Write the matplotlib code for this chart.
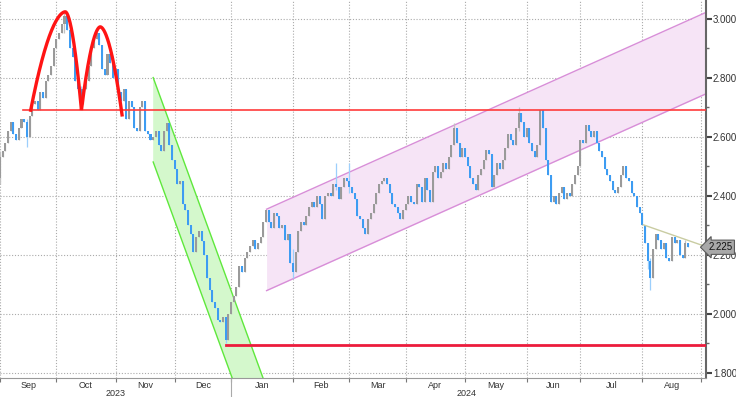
#!/usr/bin/env python3

import numpy as np
import pandas as pd
import matplotlib
matplotlib.use('Agg')
import matplotlib.pyplot as plt
from matplotlib.transforms import blended_transform_factory

# trading days shown on the chart (one candle per business day)
dates = pd.bdate_range('2023-09-01', '2024-08-26')

# daily closes, month by month
sep_23 = [2.53, 2.55, 2.58, 2.62, 2.65, 2.61, 2.59, 2.63, 2.66, 2.65, 2.60,
          2.67, 2.71, 2.72, 2.69, 2.75, 2.73, 2.79, 2.81, 2.84, 2.90]
oct_23 = [2.93, 2.95, 2.98, 3.01, 2.96, 2.90, 2.87, 2.79, 2.76, 2.71, 2.76,
          2.79, 2.84, 2.90, 2.93, 2.95, 2.91, 2.83, 2.81, 2.88, 2.85, 2.80]
nov_23 = [2.83, 2.75, 2.72, 2.76, 2.66, 2.72, 2.70, 2.63, 2.62, 2.70, 2.72,
          2.62, 2.61, 2.59, 2.60, 2.62, 2.57, 2.55, 2.62, 2.645, 2.57, 2.52]
dec_23 = [2.49, 2.44, 2.45, 2.37, 2.35, 2.30, 2.27, 2.21, 2.26, 2.28, 2.245,
          2.20, 2.12, 2.08, 2.04, 2.02, 1.98, 1.97, 1.99, 1.91, 2.00]
jan_24 = [2.04, 2.06, 2.09, 2.16, 2.14, 2.19, 2.21, 2.23, 2.25, 2.22, 2.24,
          2.26, 2.31, 2.35, 2.31, 2.29, 2.34, 2.33, 2.29, 2.30, 2.25, 2.27, 2.17]
feb_24 = [2.14, 2.21, 2.28, 2.31, 2.30, 2.33, 2.36, 2.38, 2.36, 2.40, 2.37,
          2.32, 2.40, 2.41, 2.40, 2.44, 2.43, 2.39, 2.43, 2.46, 2.45]
mar_24 = [2.43, 2.41, 2.39, 2.33, 2.32, 2.29, 2.27, 2.32, 2.34, 2.37, 2.41,
          2.44, 2.45, 2.46, 2.44, 2.41, 2.37, 2.36, 2.34, 2.32, 2.35]
apr_24 = [2.37, 2.40, 2.38, 2.37, 2.44, 2.43, 2.38, 2.46, 2.42, 2.38, 2.48,
          2.50, 2.46, 2.48, 2.51, 2.49, 2.53, 2.57, 2.63, 2.58, 2.53, 2.56]
may_24 = [2.53, 2.50, 2.46, 2.44, 2.42, 2.47, 2.49, 2.52, 2.555, 2.54, 2.43,
          2.47, 2.51, 2.49, 2.52, 2.56, 2.61, 2.59, 2.57, 2.63, 2.68, 2.65, 2.60]
jun_24 = [2.63, 2.58, 2.55, 2.53, 2.57, 2.69, 2.63, 2.52, 2.47, 2.38, 2.40,
          2.37, 2.41, 2.43, 2.39, 2.41, 2.40, 2.44, 2.47, 2.50]
jul_24 = [2.59, 2.58, 2.64, 2.62, 2.60, 2.62, 2.58, 2.55, 2.53, 2.49, 2.47,
          2.45, 2.42, 2.41, 2.43, 2.47, 2.50, 2.46, 2.45, 2.41, 2.40, 2.36, 2.34]
aug_24 = [2.30, 2.24, 2.18, 2.12, 2.22, 2.27, 2.25, 2.22, 2.24, 2.19, 2.18,
          2.26, 2.24, 2.25, 2.20, 2.19, 2.24, 2.225]
first_open = 2.46

# longer wicks visible on the chart: day index, low, high
wick_idx = [0, 10, 24, 30, 84, 109, 125, 130, 169, 193, 241, 242, 255]
wick_low = [2.44, 2.565, 2.95, 2.69, 1.90, 2.12, 2.42, 2.41, 2.58, 2.62, 2.15, 2.08, 2.21]
wick_high = [2.55, 2.66, 3.025, 2.77, 1.99, 2.22, 2.51, 2.51, 2.645, 2.70, 2.24, 2.19, 2.25]

# annotations drawn on the chart (day index / price)
neckline = 2.69
neckline_start = 8.7
support = 1.894
support_start = 84.1
last_price = 2.225
arcs = [(11.3, 2.684, 24.3, 3.023, 30.3, 2.690),
        (30.3, 2.690, 37.3, 2.972, 45.5, 2.668)]
green_x = [57.0, 110.0]
green_top = [2.80, 1.48]
green_bottom = [2.514, 1.194]
pink_x = [99.2, 262.7]
pink_top = [2.354, 3.021]
pink_bottom = [2.078, 2.745]
trend_x = [239.4, 262.7]
trend_y = [2.301, 2.227]

plt.rcParams['font.family'] = ['Liberation Sans', 'DejaVu Sans']

closes = np.array(sep_23 + oct_23 + nov_23 + dec_23 + jan_24 + feb_24 +
                  mar_24 + apr_24 + may_24 + jun_24 + jul_24 + aug_24)
opens = np.concatenate([[first_open], closes[:-1]])
idx = np.arange(len(closes))
lows = np.minimum(opens, closes)
highs = np.maximum(opens, closes)
for i, lo, hi in zip(wick_idx, wick_low, wick_high):
    lows[i] = min(lows[i], lo)
    highs[i] = max(highs[i], hi)

up = closes >= opens
body_col = np.where(up, '#9a9a9a', '#3d9cf2')
wick_col = np.where(up, '#c2c2c2', '#9ccffc')

fig = plt.figure(figsize=(7.36, 3.97), dpi=100)
ax = fig.add_axes([0.0, 0.048, 0.9592, 0.952])
ax.set_xlim(0.56, 262.7)
ax.set_ylim(1.782, 3.063)

# month boundaries and centres on the trading-day axis
all_days = pd.bdate_range('2023-09-01', '2024-09-02')
month_start = [i for i in range(len(all_days))
               if i == 0 or all_days[i].month != all_days[i - 1].month]
centres = [(a + b) / 2 for a, b in zip(month_start[:-1], month_start[1:])]
labels = [all_days[i].strftime('%b') for i in month_start[:-1]]

ax.set_xticks(month_start)
ax.set_xticklabels([])
ax.set_xticks(centres, minor=True)
ax.set_xticklabels(labels, minor=True, fontsize=6.5, color='#333333')
ax.tick_params(axis='x', which='major', length=3, color='#777777', direction='out')
ax.tick_params(axis='x', which='minor', length=0, pad=2)

ax.yaxis.tick_right()
ax.set_yticks(np.arange(1.8, 3.01, 0.2))
ax.set_yticks(np.arange(1.9, 3.0, 0.2), minor=True)
ax.yaxis.set_major_formatter(matplotlib.ticker.FormatStrFormatter('%.3f'))
ax.tick_params(axis='y', which='major', length=4, width=1.5, color='#444444',
               labelsize=7, labelcolor='#333333', pad=1)
ax.tick_params(axis='y', which='minor', length=2.5, width=1.0, color='#666666')

ax.grid(True, which='major', color='#aaaaaa', lw=0.8, linestyle=(0, (1, 1.6)))
ax.set_axisbelow(True)
for s in ['left', 'top']:
    ax.spines[s].set_visible(False)
ax.spines['right'].set_color('#666666')
ax.spines['right'].set_linewidth(1.5)
ax.spines['bottom'].set_color('#999999')

# channels
ax.fill_between(green_x, green_bottom, green_top, color='#d4f8cc', zorder=1, lw=0)
ax.plot(green_x, green_top, color='#5fe83c', lw=1, zorder=1.5)
ax.plot(green_x, green_bottom, color='#5fe83c', lw=1, zorder=1.5)
ax.fill_between(pink_x, pink_bottom, pink_top, color='#f6e4f6', zorder=1, lw=0)
ax.plot(pink_x, pink_top, color='#d88ed8', lw=1, zorder=1.5)
ax.plot(pink_x, pink_bottom, color='#d88ed8', lw=1, zorder=1.5)

# candles
ax.vlines(idx, lows, highs, colors=wick_col, lw=0.9, zorder=2)
heights = np.where(np.abs(closes - opens) < 0.004, 0.004, closes - opens)
ax.bar(idx, heights, bottom=opens, width=0.75, color=body_col, lw=0, zorder=3)

# support / neckline
ax.plot([neckline_start, 262.7], [neckline, neckline], color='#ff3b3b', lw=1.2, zorder=4)
ax.plot([support_start, 262.7], [support, support], color='#ec1c3c', lw=2, zorder=4)
ax.plot(trend_x, trend_y, color='#c9cca2', lw=1, zorder=4)

# double top arcs
for sx, sy, px, py, ex, ey in arcs:
    t = np.linspace(0, 1, 80)
    xs = np.concatenate([sx + (px - sx) * t, px + (ex - px) * t])
    ys = np.concatenate([py - (py - sy) * (1 - t) ** 1.8, py - (py - ey) * t ** 1.8])
    ax.plot(xs, ys, color='#ff1414', lw=2.4, zorder=5, solid_capstyle='butt')

# last price tag, flush with the right edge of the figure
tr = blended_transform_factory(fig.transFigure, ax.transData)
ax.text(0.995, last_price, '%.3f' % last_price, transform=tr, ha='right', va='center',
        fontsize=7, color='#111111', clip_on=False, zorder=6,
        bbox=dict(boxstyle='larrow,pad=0.22', fc='#a8a8a8', ec='#5a5a5a', lw=0.8))

# year labels under the months
tx = blended_transform_factory(ax.transData, ax.transAxes)
ax.text((month_start[0] + month_start[4]) / 2, -0.04, '2023', transform=tx,
        ha='center', va='center', fontsize=6.5, color='#333333')
ax.text((month_start[4] + month_start[-1]) / 2, -0.04, '2024', transform=tx,
        ha='center', va='center', fontsize=6.5, color='#333333')
ax.plot([month_start[4], month_start[4]], [0, -0.06], transform=tx,
        color='#aaaaaa', lw=0.8, clip_on=False)

fig.savefig('out.png', dpi=100)
